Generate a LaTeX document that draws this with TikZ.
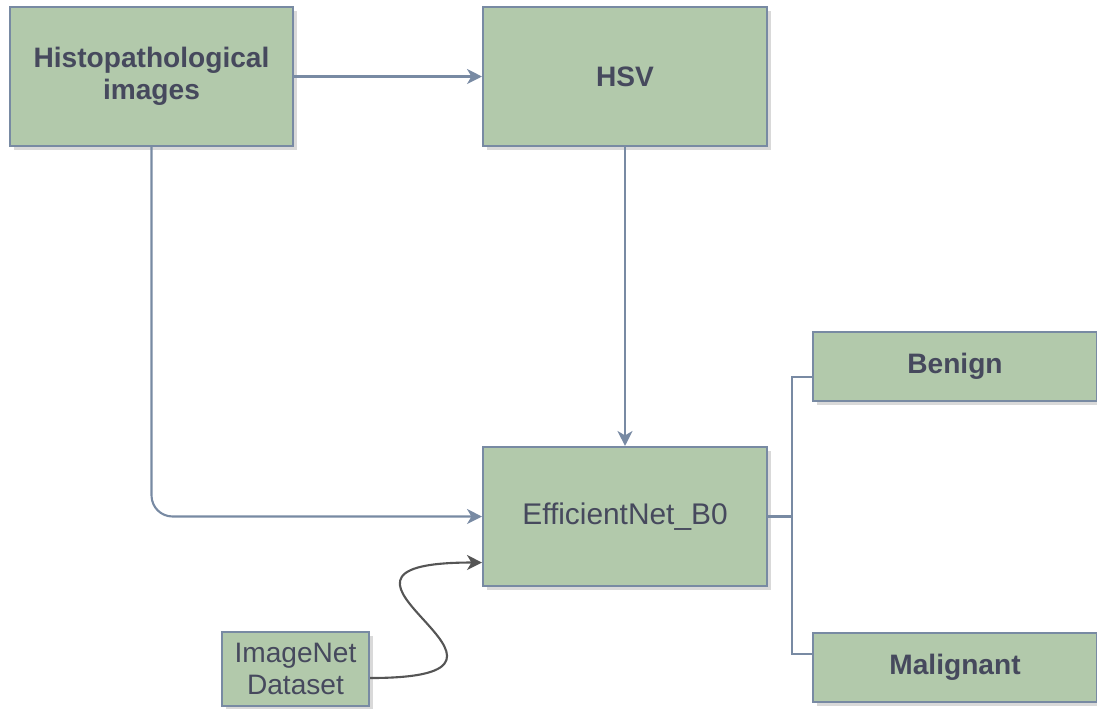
\documentclass[tikz,border=0pt]{standalone}
\usepackage{fontspec}
\setmainfont{Liberation Sans}
\usetikzlibrary{arrows.meta,positioning,calc,shadows}
\definecolor{SageFill}  {HTML}{B2C9AB}
\definecolor{SageLine}  {HTML}{788AA3}
\definecolor{SageText}  {HTML}{46495D}
\definecolor{CurveGray} {HTML}{555555}
\tikzset{
  box/.style={draw=SageLine,fill=SageFill,line width=1.2pt,
              text=SageText,align=center,inner sep=2pt,
              font=\fontsize{16}{18.5}\selectfont,
              drop shadow={shadow xshift=2.5pt,shadow yshift=-2.5pt,
                           opacity=0.25,fill=black!60}},
  boldbox/.style={box,font=\fontsize{16}{18.5}\selectfont\bfseries},
  conn/.style={draw=SageLine,line width=1.2pt},
  tip/.style={-{Stealth[length=8.5pt,width=8.5pt,inset=2.5pt]}},
  arr/.style={conn,tip},
}
\begin{document}
\begin{tikzpicture}[x=0.02cm,y=-0.02cm]
  %% Frame: fixes the page to the reference size
  \useasboundingbox (0,0) rectangle (1097,708);
  %% Boxes
  \node[boldbox,minimum width=5.66cm,minimum height=2.78cm]
       (hist) at (151.5,76.5) {Histopathological\\images};
  \node[boldbox,minimum width=5.68cm,minimum height=2.78cm]
       (hsv) at (625,76.5) {HSV};
  \node[box,minimum width=5.68cm,minimum height=2.78cm,
        font=\fontsize{17}{19}\selectfont]
       (effnet) at (625,516.5) {EfficientNet\_B0};
  \node[box,minimum width=2.94cm,minimum height=1.48cm]
       (imgnet) at (295.5,669) {ImageNet\\Dataset};
  \node[boldbox,minimum width=5.68cm,minimum height=1.38cm]
       (benign) at (955,366.5) {Benign};
  \node[boldbox,minimum width=5.68cm,minimum height=1.38cm]
       (malig) at (955,667.5) {Malignant};
  %% Flow between the boxes
  \draw[arr] (hist) -- (hsv);
  \draw[arr] (hsv) -- (effnet);
  \draw[arr,rounded corners=12] (hist.south) |- (effnet.west);
  %% Pretrained weights: S-shaped curve
  \coordinate (imgout) at ($(imgnet.east)+(0,9)$);
  \coordinate (effin)  at ($(effnet.west)+(0,46)$);
  \draw[CurveGray,line width=1.2pt,tip]
       (imgout) .. controls +(211,0) and +(-213,0) .. (effin);
  %% Output fork
  \coordinate (fork)    at ($(effnet.east)+(24,0)$);
  \coordinate (benignin) at ($(benign.west)+(0,10.5)$);
  \coordinate (maligin)  at ($(malig.west)+(0,-13.5)$);
  \draw[conn] (effnet.east) -- (fork) |- (benignin);
  \draw[conn] (fork) |- (maligin);
\end{tikzpicture}
\end{document}
